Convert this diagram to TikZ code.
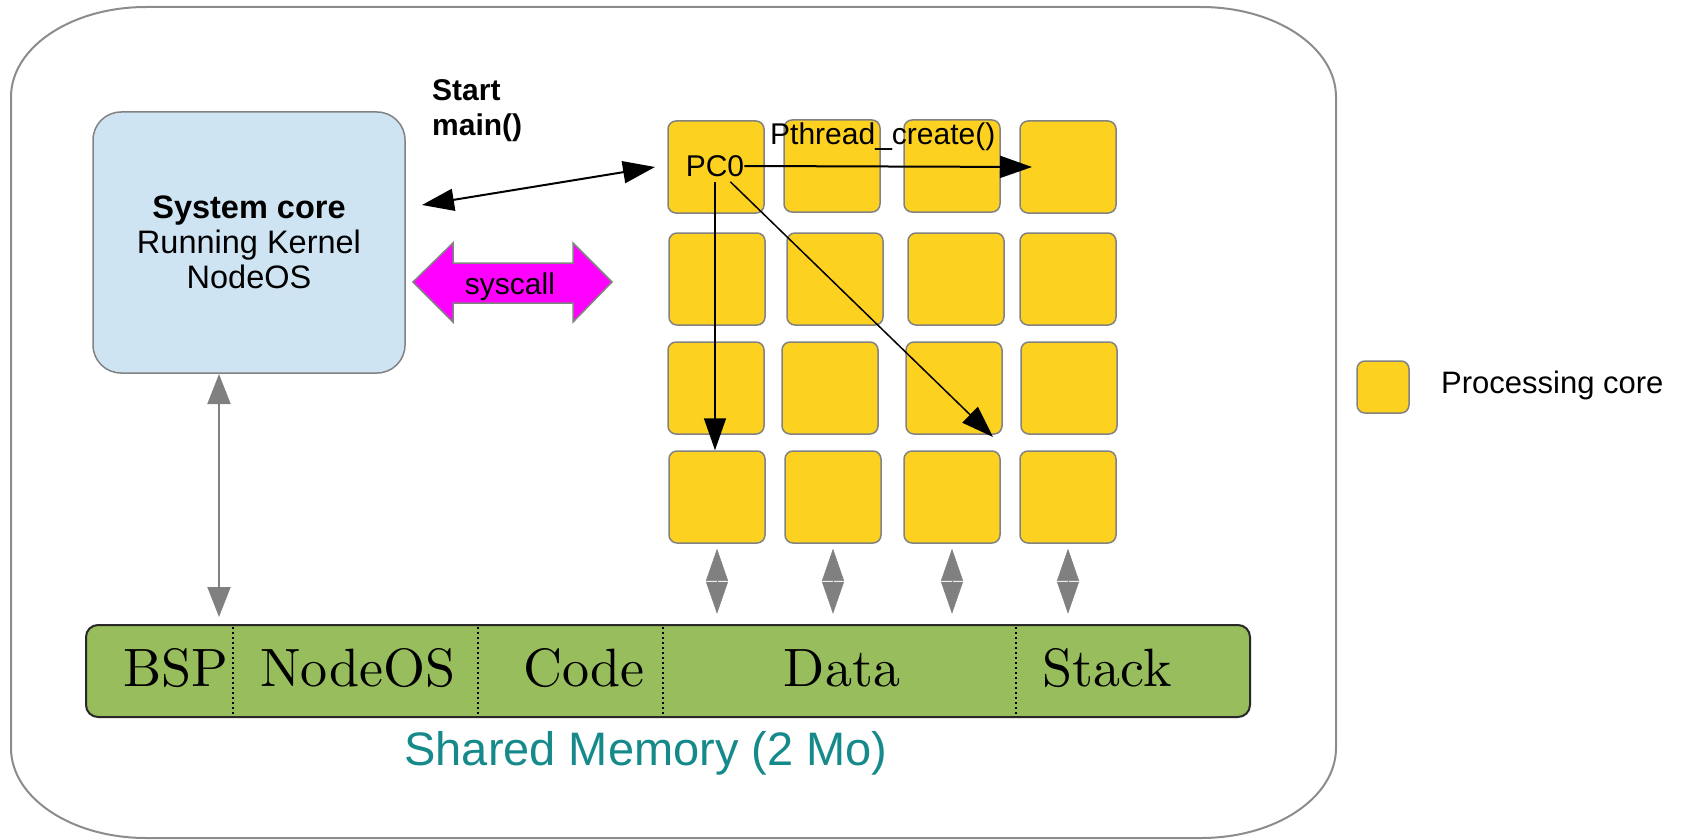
\documentclass[tikz,border=0pt]{standalone}
\usepackage{fontspec}
\usepackage{graphicx}
\newfontfamily\arialf{Liberation Sans}
\usetikzlibrary{arrows.meta}
\definecolor{coreyellow}{RGB}{253,209,31}
\definecolor{coreborder}{RGB}{130,130,130}
\definecolor{sysblue}{RGB}{207,228,242}
\definecolor{memgreen}{RGB}{152,189,92}
\definecolor{memborder}{RGB}{40,40,40}
\definecolor{tealtext}{RGB}{22,138,138}
\definecolor{framegray}{RGB}{140,140,140}
\definecolor{arrowgray}{RGB}{128,128,128}
\definecolor{syscallmag}{RGB}{255,0,255}
\newcommand{\memtxt}[1]{\scalebox{5.4}{\fontsize{10}{12}\selectfont #1}}
\begin{document}
\begin{tikzpicture}[x=1pt,y=-1pt,
  core/.style={draw=coreborder, line width=1.5pt, fill=coreyellow, rounded corners=8pt,
    minimum width=96pt, minimum height=92pt, inner sep=0pt},
  sanstext/.style={font=\arialf\fontsize{30}{35}\selectfont, inner sep=0pt},
  memlabel/.style={inner sep=0pt, anchor=base},
  blackarrow/.style={line width=2pt, -{Triangle[length=32pt,width=22pt]}},
  thinblackarrow/.style={line width=1.5pt, -{Triangle[length=32pt,width=22pt]}},
  grayarrow/.style={draw=arrowgray, line width=2pt,
    {Triangle[length=30pt,width=23pt]}-{Triangle[length=30pt,width=23pt]}},
  smallgray/.style={draw=arrowgray, line width=0.5pt,
    {Triangle[length=32pt,width=22pt]}-{Triangle[length=32pt,width=22pt]}},
  divider/.style={line width=2pt, dash pattern=on 2pt off 3pt, draw=black}
]
\useasboundingbox (0,0) rectangle (1690,840);

% outer frame
\draw[framegray, line width=2pt] (146,7) -- (1201,7)
  arc[start angle=-90, end angle=0, x radius=135, y radius=90] -- (1336,748)
  arc[start angle=0, end angle=90, x radius=135, y radius=90] -- (146,838)
  arc[start angle=90, end angle=180, x radius=135, y radius=90] -- (11,97)
  arc[start angle=180, end angle=270, x radius=135, y radius=90] -- cycle;

% system core
\node[draw=coreborder, line width=1.5pt, fill=sysblue, rounded corners=28pt,
  minimum width=312pt, minimum height=261pt, align=center,
  font=\arialf\fontsize{32.5}{35}\selectfont] (sys) at (249,242.5)
  {{\bfseries System core}\\Running Kernel\\NodeOS};

% processing cores grid
\node[core] (c11) at (716,167) {};
\node[core] (c12) at (832,166) {};
\node[core] (c13) at (952,166) {};
\node[core] (c14) at (1068,167) {};
\node[core] (c21) at (717,279) {};
\node[core] (c22) at (835,279) {};
\node[core] (c23) at (956,279) {};
\node[core] (c24) at (1068,279) {};
\node[core] (c31) at (716,388) {};
\node[core] (c32) at (830,388) {};
\node[core] (c33) at (954,388) {};
\node[core] (c34) at (1069,388) {};
\node[core] (c41) at (717,497) {};
\node[core] (c42) at (833,497) {};
\node[core] (c43) at (952,497) {};
\node[core] (c44) at (1068,497) {};

\node[sanstext] (pc0) at (715,166) {PC0};
\node[sanstext, anchor=base west] (pth) at (770,145) {Pthread\_create()};
\node[sanstext, anchor=north west, align=left, font=\arialf\bfseries\fontsize{30}{35}\selectfont]
  (start) at (432,79) {Start\\main()};

% syscall double arrow
\draw[draw=coreborder, line width=1.5pt, fill=syscallmag]
  (413,282) -- (453,243) -- (453,263) -- (573,263) -- (573,243) -- (612,282)
  -- (573,322) -- (573,303) -- (453,303) -- (453,322) -- cycle;
\node[sanstext, anchor=base] (sysc) at (510,294) {syscall};

% black arrows
\coordinate (smA) at (422,205);
\coordinate (smB) at (655,167);
\draw[line width=2pt, {Triangle[length=32pt,width=22pt]}-{Triangle[length=32pt,width=22pt]}] (smA) -- (smB);
\coordinate (pthEnd) at (1032,167);
\draw[blackarrow] (pc0.east) -- (pthEnd);
\draw[thinblackarrow] ([yshift=-5pt]pc0.south) -- (pc0.south |- c41.north);
\coordinate (diagEnd) at (993,437);
\draw[thinblackarrow] ([xshift=-14pt,yshift=-5pt]pc0.south east) -- (diagEnd);

% shared memory bar
\node[draw=memborder, line width=2pt, fill=memgreen, rounded corners=12pt,
  minimum width=1164pt, minimum height=92pt, inner sep=0pt] (bar) at (668,671) {};
\draw[divider] (233,627) -- (233,715);
\draw[divider] (478,627) -- (478,715);
\draw[divider] (663,627) -- (663,715);
\draw[divider] (1016,627) -- (1016,715);
\node[memlabel] (bsp) at (176,686) {\memtxt{BSP}};
\node[memlabel] (nos) at (358,686) {\memtxt{NodeOS}};
\node[memlabel] (code) at (584,686) {\memtxt{Code}};
\node[memlabel] (data) at (842,686) {\memtxt{Data}};
\node[memlabel] (stack) at (1107,686) {\memtxt{Stack}};
\node[anchor=base, inner sep=0pt, text=tealtext, font=\arialf\fontsize{47}{52}\selectfont]
  (shm) at (646,765) {Shared Memory (2 Mo)};

% gray arrows
\coordinate (sysA) at (219,374);
\coordinate (barA) at (219,617);
\draw[grayarrow] (sysA) -- (barA);
\draw[smallgray] ([yshift=-5pt]c41.south) -- ++(0,65);
\draw[smallgray] ([yshift=-5pt]c42.south) -- ++(0,65);
\draw[smallgray] ([yshift=-5pt]c43.south) -- ++(0,65);
\draw[smallgray] ([yshift=-5pt]c44.south) -- ++(0,65);

% legend
\node[core, minimum width=52pt, minimum height=52pt] (leg) at (1383,387) {};
\node[sanstext, anchor=base west, font=\arialf\fontsize{31}{35}\selectfont] (legt) at (1441,393) {Processing core};
\end{tikzpicture}
\end{document}
